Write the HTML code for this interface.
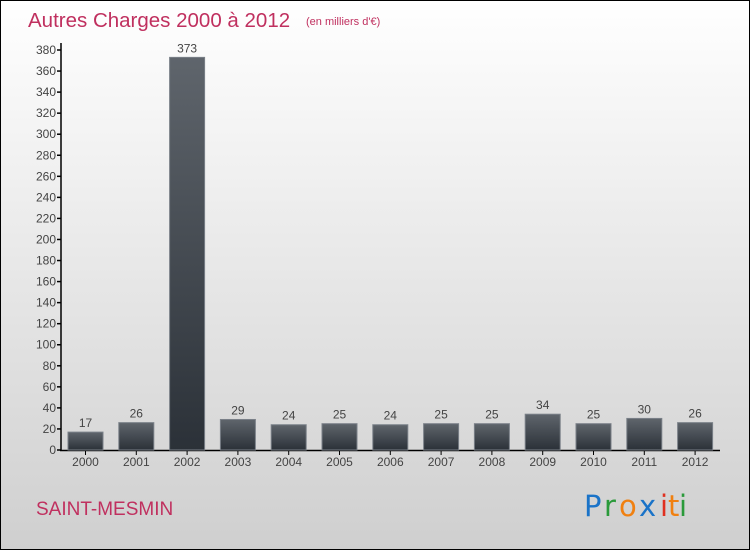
<!DOCTYPE html>
<html><head><meta charset="utf-8"><style>
html,body{margin:0;padding:0}
body{width:750px;height:550px;overflow:hidden}
</style></head><body>
<svg width="750" height="550" xmlns="http://www.w3.org/2000/svg" font-family="'Liberation Sans', sans-serif">
<defs>
<linearGradient id="bg" x1="0" y1="0" x2="0" y2="1"><stop offset="0" stop-color="#ffffff"/><stop offset="1" stop-color="#cfcfcf"/></linearGradient>
<linearGradient id="bar" x1="0" y1="0" x2="0" y2="1"><stop offset="0" stop-color="#5f656c"/><stop offset="1" stop-color="#2b3138"/></linearGradient>
</defs>
<rect x="0.5" y="0.5" width="749" height="549" fill="url(#bg)" stroke="#000"/>
<text x="28" y="27" font-size="20.5" fill="#c0305f">Autres Charges 2000 à 2012</text>
<text x="306" y="25" font-size="11" fill="#c0305f">(en milliers d'€)</text>
<g id="axes" stroke="#000" stroke-width="1.5">
<line x1="61" y1="43" x2="61" y2="451"/>
<line x1="60" y1="450.5" x2="720" y2="450.5"/>
</g>
<g font-size="12" fill="#444" text-anchor="end" id="yt"></g>
<g id="bars"></g>
<text x="36" y="515" font-size="19" fill="#c0305f">SAINT-MESMIN</text>
<g font-size="29" font-family="'DejaVu Sans', sans-serif">
<text x="584" y="516" fill="#1a73c8">P</text>
<text x="604" y="516" fill="#2a9a3a">r</text>
<text x="619" y="516" fill="#f08010">o</text>
<text x="639" y="516" fill="#1a73c8">x</text>
<text x="660" y="516" fill="#e03020">i</text>
<text x="668" y="516" fill="#f08010">t</text>
<text x="679" y="516" fill="#2a9a3a">i</text>
</g>
</svg>
<script>
var ns="http://www.w3.org/2000/svg";
function el(t,a,p,txt){var e=document.createElementNS(ns,t);for(var k in a)e.setAttribute(k,a[k]);if(txt!=null)e.textContent=txt;p.appendChild(e);return e;}
var yt=document.getElementById('yt'),ax=document.getElementById('axes'),bars=document.getElementById('bars');
var s=400/380;
for(var v=0;v<=380;v+=20){var y=450-v*s;el('line',{x1:57,y1:y,x2:61,y2:y},ax);el('text',{x:56,y:y+4},yt,v);}
var d=[17,26,373,29,24,25,24,25,25,34,25,30,26];
for(var i=0;i<13;i++){var cx=85.5+i*50.8,h=d[i]*s;
el('rect',{x:cx-17.5,y:450-h,width:35,height:h,fill:'url(#bar)',stroke:'#7a8088','stroke-width':1},bars);
el('line',{x1:cx,y1:451,x2:cx,y2:455,stroke:'#000'},bars);
el('text',{x:cx,y:445-h,'font-size':12,fill:'#444','text-anchor':'middle'},bars,d[i]);
el('text',{x:cx,y:466,'font-size':12,fill:'#444','text-anchor':'middle'},bars,2000+i);}
</script>
</body></html>
